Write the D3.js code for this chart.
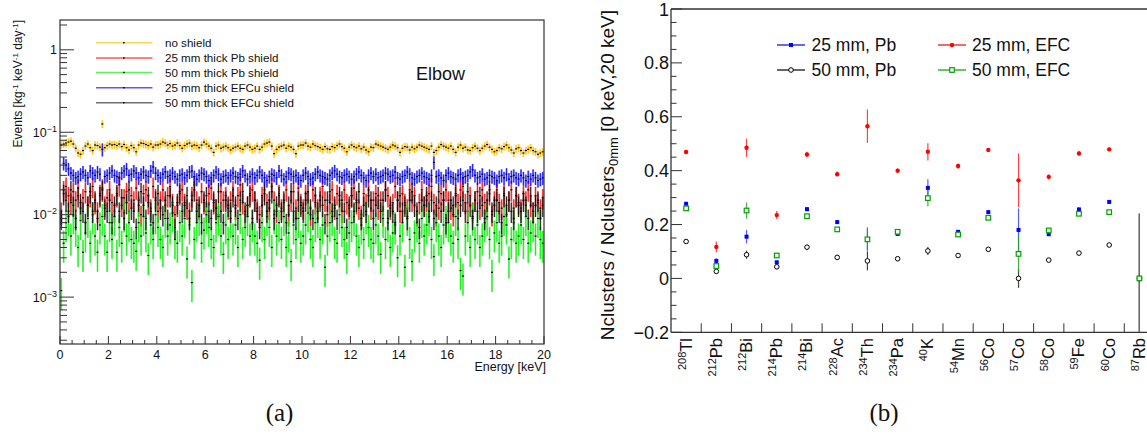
<!DOCTYPE html>
<html><head><meta charset="utf-8">
<script src="https://cdn.jsdelivr.net/npm/d3@7"></script>
<style>
body{margin:0;background:#fff;}
svg{display:block;font-family:"Liberation Sans",Arial,sans-serif;}
</style>
</head><body>
<svg id="c" width="1147" height="436"></svg>
<script>
// ---------------- Panel (a) data: 200 energy bins of 0.1 keV, values in units of 1e-4 kg^-1 keV^-1 day^-1
const energyMax = 20;
const unitA = 1e-4;
const noShield = [
700,720,740,760,780,720,640,560,540,600, 680,720,650,600,700,690,660,1260,650,690,
720,700,710,690,720,670,710,650,610,690, 650,580,700,740,730,710,690,720,660,700,
700,720,760,740,700,730,680,700,740,690, 640,690,720,740,680,700,690,650,700,760,
720,680,640,570,680,700,640,660,680,650, 610,640,660,680,640,620,680,700,660,620,
640,680,620,660,720,740,760,680,550,620, 660,680,700,640,680,660,620,550,680,700,
700,740,680,660,720,690,670,650,620,670, 630,620,670,650,690,720,670,640,580,660,
700,670,650,680,630,660,610,580,660,650, 720,700,680,660,640,620,660,700,680,650,
570,640,670,660,610,660,630,660,700,680, 660,640,620,680,570,600,660,710,680,660,
640,680,620,570,660,700,640,660,610,600, 650,680,640,600,640,680,710,660,620,580,
600,650,630,670,700,650,610,560,630,650, 600,560,600,620,650,600,580,540,560,580];
const pb25mm = [
110,200,220,170,140,190,150,210,120,160, 190,130,170,220,140,110,180,210,130,160,
200,140,110,170,230,130,160,190,110,170, 150,210,130,100,180,200,140,120,220,160,
110,150,200,130,170,220,140,100,130,180, 200,140,120,110,170,230,150,120,190,140,
110,180,210,140,120,100,190,150,170,120, 150,200,120,170,230,140,100,130,180,200,
150,120,100,170,200,140,120,220,150,110, 180,120,140,200,100,150,190,120,210,140,
120,180,150,100,200,140,120,170,220,150, 100,140,200,120,180,150,110,200,140,120,
170,210,140,120,100,180,140,200,120,150, 180,120,150,100,200,170,120,140,220,150,
110,180,140,120,200,150,170,100,140,200, 130,150,180,220,140,100,120,180,150,200,
150,120,100,180,140,200,220,140,110,170, 110,150,190,120,200,140,120,180,100,150,
200,140,120,180,100,150,200,120,170,140, 120,180,150,200,130,110,170,140,120,160];
const pb50mm = [
12,45,80,95,55,100,70,40,85,35, 60,90,45,100,55,35,75,95,55,35,
80,50,95,35,70,45,105,55,80,50, 45,36,80,55,95,60,32,75,50,100,
70,50,40,90,55,75,105,50,45,80, 55,90,29,75,15,50,80,95,45,65,
100,70,50,40,80,95,55,33,75,50, 90,55,75,40,100,50,70,95,55,80,
55,45,28,80,50,95,70,40,100,55, 80,50,95,40,60,27,75,50,90,45,
55,75,105,50,40,80,90,50,75,23, 55,80,95,50,45,100,70,50,33,60,
80,95,55,40,75,50,100,70,50,45, 75,55,33,90,50,80,40,60,75,30,
55,80,23,95,50,27,60,80,45,90, 55,75,95,50,31,80,55,40,75,90,
80,55,45,95,50,21,18,55,80,40, 95,50,75,40,55,80,95,50,20,60,
80,45,55,95,75,29,50,80,45,55, 75,50,95,45,60,80,55,90,50,45];
const efcu25mm = [
90,420,400,360,320,300,280,290,310,330, 300,280,340,320,300,330,310,620,290,300,
320,340,300,290,280,320,340,360,300,310, 340,320,280,310,330,300,290,340,380,320,
300,280,310,330,290,300,320,290,270,300, 310,280,300,330,340,290,270,300,320,310,
290,260,280,300,330,310,270,290,300,280, 300,320,290,280,310,340,300,270,290,310,
280,300,330,300,280,260,290,310,300,280, 340,300,270,290,320,310,290,300,280,260,
300,320,290,270,280,310,330,300,290,280, 270,300,320,340,310,290,280,300,310,290,
270,290,310,330,300,280,260,300,320,290, 310,280,290,300,320,310,290,300,330,280,
270,290,300,330,310,280,270,290,300,320, 290,280,270,300,430,290,300,280,260,300,
320,290,280,270,300,310,280,290,300,330, 350,300,280,290,310,270,280,300,290,280,
260,290,300,280,310,270,290,300,280,270, 300,280,260,290,270,300,280,260,270,280];
const efcu50mm = [
90,180,150,110,200,130,90,170,140,110, 80,130,190,110,150,90,170,200,120,110,
150,80,130,180,110,160,90,140,200,120, 110,70,150,190,130,90,170,110,80,150,
180,120,100,150,90,170,130,70,140,190, 110,130,170,90,150,200,110,130,80,150,
170,110,90,150,120,190,110,80,150,130, 110,170,130,90,150,190,110,130,170,90,
150,110,70,130,180,110,150,190,90,130, 170,110,150,80,130,190,110,90,150,130,
110,150,190,120,90,170,110,150,130,80, 150,190,110,130,90,170,150,110,70,130,
170,110,150,190,90,130,110,170,150,90, 130,170,110,150,200,90,130,110,80,150,
170,110,130,90,150,190,130,110,70,150, 130,170,110,150,90,130,190,110,150,80,
110,150,130,170,90,130,150,110,190,130, 90,150,110,170,130,90,150,200,110,130,
150,110,80,170,130,150,110,90,170,130, 110,150,130,90,170,110,130,150,90,130];
const seriesNamesA = ["no shield","25 mm thick Pb shield","50 mm thick Pb shield","25 mm thick EFCu shield","50 mm thick EFCu shield"];
const seriesColorsA = ["#ffbf00","#ff0000","#00ee00","#0000ff","#000000"];
const seriesRelErrA = [0.11,0.28,0.42,0.18,0.28];
const yTickLabelsA = [[1e-3,"10","−3"],[1e-2,"10","−2"],[1e-1,"10","−1"],[1,"1",""]];

// ---------------- Panel (b) data
const isoMass = ["208","212","212","214","214","228","234","234","40","54","56","57","58","59","60","87"];
const isoSym  = ["Tl","Pb","Bi","Pb","Bi","Ac","Th","Pa","K","Mn","Co","Co","Co","Fe","Co","Rb"];
const pb25 =     [0.277,0.065,0.155,0.060,0.257,0.209,0.145,0.165,0.336,0.173,0.246,0.180,0.164,0.256,0.284,0];
const pb25Err =  [0.006,0.010,0.025,0.005,0.008,0.007,0.040,0.006,0.032,0.007,0.006,0.080,0.006,0.008,0.006,0.24];
const pb50 =     [0.137,0.026,0.088,0.043,0.116,0.078,0.065,0.073,0.102,0.085,0.108,0.000,0.068,0.094,0.124,0];
const pb50Err =  [0.004,0.006,0.015,0.005,0.005,0.005,0.035,0.005,0.015,0.005,0.005,0.035,0.005,0.005,0.005,0.24];
const efc25 =    [0.469,0.117,0.485,0.235,0.460,0.387,0.565,0.400,0.470,0.417,0.477,0.364,0.377,0.464,0.479,0];
const efc25Err = [0.007,0.020,0.034,0.015,0.010,0.010,0.062,0.008,0.032,0.010,0.007,0.100,0.010,0.010,0.007,0.24];
const efc50 =    [0.260,0.046,0.252,0.085,0.231,0.182,0.145,0.173,0.298,0.163,0.225,0.091,0.178,0.240,0.246,0];
const efc50Err = [0.006,0.008,0.030,0.008,0.007,0.007,0.045,0.007,0.030,0.007,0.006,0.070,0.007,0.008,0.006,0.24];
const yTicksB = [-0.2,0,0.2,0.4,0.6,0.8,1];

// ======================= drawing =======================
const svg = d3.select("#c");
const AX = "#333";

// ---------- Panel (a)
const xA = d3.scaleLinear().domain([0, energyMax]).range([60, 544]);
const yA = d3.scaleLog().domain([2.7e-4, 2.3]).range([344, 20]);
const gA = svg.append("g");
svg.append("defs").append("clipPath").attr("id","clipA")
  .append("rect").attr("x",60).attr("y",20).attr("width",484).attr("height",324);

const plotA = gA.append("g").attr("clip-path","url(#clipA)");
const seriesA = [noShield, pb25mm, pb50mm, efcu25mm, efcu50mm];
const nb = noShield.length, bw = energyMax / nb;
seriesA.forEach((arr, si) => {
  const col = seriesColorsA[si];
  const g = plotA.append("g");
  arr.forEach((raw, i) => {
    const v = raw * unitA, e = v * seriesRelErrA[si];
    const x0 = xA(i*bw), x1 = xA((i+1)*bw), xc = (x0+x1)/2;
    const yt = yA(v + e), yb = yA(Math.max(v - e, 1e-5));
    g.append("rect").attr("x", x0+0.2).attr("width", x1-x0-0.4).attr("y", yt).attr("height", yb-yt)
      .attr("fill", si===4 ? "#555" : col).attr("opacity", si===0 ? 0.55 : 0.45);
    g.append("line").attr("x1", xc).attr("x2", xc).attr("y1", yt).attr("y2", yb)
      .attr("stroke", col).attr("stroke-width", 0.9).attr("opacity", 0.9);
    g.append("rect").attr("x", xc-1).attr("y", yA(v)-0.6).attr("width", 2).attr("height", 1.2).attr("fill", "#000");
  });
});

// frame
gA.append("rect").attr("x",60).attr("y",20).attr("width",484).attr("height",324)
  .attr("fill","none").attr("stroke",AX).attr("stroke-width",1.2);

// y ticks (log)
const yDom = yA.domain();
for (let p = -4; p <= 0; p++) {
  for (let k = 1; k <= 9; k++) {
    const v = k * Math.pow(10, p);
    if (v < yDom[0] || v > yDom[1]) continue;
    const len = k === 1 ? 14 : 7;
    gA.append("line").attr("x1",60).attr("x2",60+len).attr("y1",yA(v)).attr("y2",yA(v))
      .attr("stroke",AX).attr("stroke-width",1);
  }
}
yTickLabelsA.forEach(([v, base, sup]) => {
  const t = gA.append("text").attr("x", 57).attr("y", yA(v)+4.5).attr("text-anchor","end")
    .attr("font-size",12.5).attr("fill","#111");
  t.append("tspan").text(base);
  if (sup) t.append("tspan").attr("dy",-5).attr("font-size",9).text(sup);
});
// x ticks
d3.range(0, energyMax + 0.001, 0.5).forEach(v => {
  const major = Math.abs(v/2 - Math.round(v/2)) < 1e-6;
  gA.append("line").attr("x1",xA(v)).attr("x2",xA(v)).attr("y1",344).attr("y2",344-(major?8:4))
    .attr("stroke",AX).attr("stroke-width",1);
});
d3.range(0, energyMax + 0.001, 2).forEach(v => {
  gA.append("text").attr("x",xA(v)).attr("y",359).attr("text-anchor","middle")
    .attr("font-size",12.5).attr("fill","#111").text(v);
});
gA.append("text").attr("x",546).attr("y",371).attr("text-anchor","end")
  .attr("font-size",12.5).attr("fill","#111").text("Energy [keV]");
// y title
const yt = gA.append("text").attr("transform","translate(22,20) rotate(-90)").attr("text-anchor","end")
  .attr("font-size",12).attr("fill","#111");
yt.append("tspan").text("Events [kg");
yt.append("tspan").attr("dy",-4).attr("font-size",8).text("-1");
yt.append("tspan").attr("dy",4).text(" keV");
yt.append("tspan").attr("dy",-4).attr("font-size",8).text("-1");
yt.append("tspan").attr("dy",4).text(" day");
yt.append("tspan").attr("dy",-4).attr("font-size",8).text("-1");
yt.append("tspan").attr("dy",4).text("]");

// legend (a)
const legY = [42.7, 58, 72.5, 87.7, 102.7];
seriesNamesA.forEach((name, i) => {
  gA.append("line").attr("x1",96).attr("x2",152.5).attr("y1",legY[i]).attr("y2",legY[i])
    .attr("stroke", i===4 ? "#222" : seriesColorsA[i]).attr("stroke-width",1.6).attr("opacity",0.65);
  gA.append("rect").attr("x",123).attr("y",legY[i]-0.7).attr("width",1.6).attr("height",1.4).attr("fill","#000");
  gA.append("text").attr("x",165).attr("y",legY[i]+4.2).attr("font-size",11.6).attr("fill","#111").text(name);
});
gA.append("text").attr("x",416).attr("y",80).attr("font-size",18).attr("fill","#111").text("Elbow");
svg.append("text").attr("x",279.5).attr("y",421).attr("text-anchor","middle")
  .attr("font-family","'Liberation Serif','DejaVu Serif',serif").attr("font-size",25).attr("fill","#111").text("(a)");

// ---------- Panel (b)
const binW = 30.22;
const xB = d3.scaleBand().domain(d3.range(isoSym.length)).range([671, 671 + binW*isoSym.length]).padding(0);
const yB = d3.scaleLinear().domain([-0.2, 1]).range([332.3, 9]);
const gB = svg.append("g");
gB.append("line").attr("x1",671).attr("x2",1147).attr("y1",9).attr("y2",9).attr("stroke",AX).attr("stroke-width",1.3);
gB.append("line").attr("x1",671).attr("x2",1147).attr("y1",332.3).attr("y2",332.3).attr("stroke",AX).attr("stroke-width",1.3);
gB.append("line").attr("x1",671).attr("x2",671).attr("y1",9).attr("y2",332.3).attr("stroke",AX).attr("stroke-width",1.3);
// y ticks
d3.range(-0.2, 1.0001, 0.05).forEach(v => {
  const major = Math.abs(v/0.2 - Math.round(v/0.2)) < 1e-6;
  gB.append("line").attr("x1",671).attr("x2",671+(major?11:5.5)).attr("y1",yB(v)).attr("y2",yB(v))
    .attr("stroke",AX).attr("stroke-width",1);
});
yTicksB.forEach(v => {
  gB.append("text").attr("x",669).attr("y",yB(v)+6.5).attr("text-anchor","end")
    .attr("font-size",18).attr("fill","#111").text(v < 0 ? "−" + Math.abs(v) : String(v));
});
// x ticks at bin edges
d3.range(1, isoSym.length + 1).forEach(i => {
  const x = 671 + i*binW;
  gB.append("line").attr("x1",x).attr("x2",x).attr("y1",332.3).attr("y2",323.3).attr("stroke",AX).attr("stroke-width",1);
});
// x labels
isoSym.forEach((s, i) => {
  const xc = xB(i) + xB.bandwidth()/2;
  const t = gB.append("text").attr("transform",`translate(${xc+5.5},338) rotate(-90)`).attr("text-anchor","end").attr("fill","#111");
  t.append("tspan").attr("font-size",11).attr("dy",-6).text(isoMass[i]);
  t.append("tspan").attr("font-size",16.5).attr("dy",6).text(s);
});
// y title
const ytB = gB.append("text").attr("transform","translate(614,10) rotate(-90)").attr("text-anchor","end")
  .attr("font-size",19).attr("fill","#111");
ytB.append("tspan").text("Nclusters / Nclusters");
ytB.append("tspan").attr("dy",4).attr("font-size",13).text("0mm");
ytB.append("tspan").attr("dy",-4).text(" [0 keV,20 keV]");

const seriesB = [
  {v: pb25, e: pb25Err, col:"#0000ff", ecol:"#3344ff", m:"sq"},
  {v: pb50, e: pb50Err, col:"#000000", ecol:"#222222", m:"oc"},
  {v: efc25, e: efc25Err, col:"#ff0000", ecol:"#ff2020", m:"dot"},
  {v: efc50, e: efc50Err, col:"#00a000", ecol:"#22a022", m:"osq"}
];
svg.append("defs").append("clipPath").attr("id","clipB")
  .append("rect").attr("x",671).attr("y",9).attr("width",476).attr("height",323.3);
const plotB = gB.append("g").attr("clip-path","url(#clipB)");
function marker(g, type, x, y, col) {
  if (type === "sq") g.append("rect").attr("x",x-2).attr("y",y-2).attr("width",4).attr("height",4).attr("fill",col);
  if (type === "dot") g.append("circle").attr("cx",x).attr("cy",y).attr("r",2.2).attr("fill",col);
  if (type === "oc") g.append("circle").attr("cx",x).attr("cy",y).attr("r",2.3).attr("fill","#fff").attr("stroke",col).attr("stroke-width",1);
  if (type === "osq") g.append("rect").attr("x",x-2.3).attr("y",y-2.3).attr("width",4.6).attr("height",4.6).attr("fill","#fff").attr("stroke",col).attr("stroke-width",1.2);
}
seriesB.forEach(s => {
  s.v.forEach((v, i) => {
    const xc = xB(i) + xB.bandwidth()/2;
    plotB.append("line").attr("x1",xc).attr("x2",xc).attr("y1",yB(v + s.e[i])).attr("y2",yB(v - s.e[i]))
      .attr("stroke", s.ecol).attr("stroke-width",1.2).attr("opacity",0.85);
  });
});
seriesB.forEach(s => {
  s.v.forEach((v, i) => {
    const xc = xB(i) + xB.bandwidth()/2;
    marker(plotB, s.m, xc, yB(v), s.col);
  });
});
// legend (b)
const legB = [
  {x1:777, x2:805, y:45, ty:50.5, tx:811.5, label:"25 mm, Pb", s:seriesB[0]},
  {x1:777, x2:805, y:70, ty:76, tx:811.5, label:"50 mm, Pb", s:seriesB[1]},
  {x1:938, x2:966, y:45, ty:50.5, tx:972, label:"25 mm, EFC", s:seriesB[2]},
  {x1:938, x2:966, y:70, ty:76, tx:972, label:"50 mm, EFC", s:seriesB[3]}
];
legB.forEach(d => {
  gB.append("line").attr("x1",d.x1).attr("x2",d.x2).attr("y1",d.y).attr("y2",d.y).attr("stroke",d.s.col).attr("stroke-width",1.2);
  marker(gB, d.s.m, (d.x1+d.x2)/2, d.y, d.s.col);
  gB.append("text").attr("x",d.tx).attr("y",d.ty).attr("font-size",17.5).attr("fill","#111").text(d.label);
});
svg.append("text").attr("x",884).attr("y",421).attr("text-anchor","middle")
  .attr("font-family","'Liberation Serif','DejaVu Serif',serif").attr("font-size",25).attr("fill","#111").text("(b)");
</script>
</body></html>
